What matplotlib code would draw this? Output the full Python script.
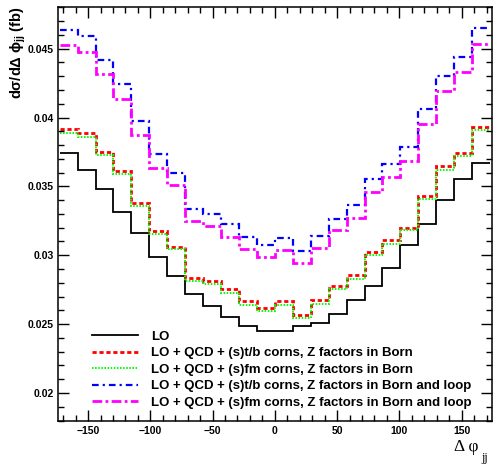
import numpy as np
import matplotlib
matplotlib.use("Agg")
import matplotlib.pyplot as plt
from matplotlib.ticker import MultipleLocator, FuncFormatter

plt.rcParams['font.family'] = ['Liberation Sans', 'DejaVu Sans']
plt.rcParams['mathtext.fontset'] = 'custom'
plt.rcParams['mathtext.bf'] = 'Liberation Sans:bold'
plt.rcParams['mathtext.rm'] = 'Liberation Sans'

# Bin edges (degrees)
bin_edges = np.linspace(-172.8, 172.8, 25)

lo = [0.03741, 0.03621, 0.03478, 0.03314, 0.03158, 0.02987, 0.02850, 0.02721,
      0.02633, 0.02553, 0.02488, 0.02450, 0.02448, 0.02488, 0.02508, 0.02575,
      0.02674, 0.02777, 0.02910, 0.03074, 0.03230, 0.03404, 0.03556, 0.03669]
tb_born = [0.03915, 0.03886, 0.03747, 0.03613, 0.03380, 0.03175, 0.03062, 0.02835,
           0.02814, 0.02754, 0.02665, 0.02618, 0.02667, 0.02568, 0.02674, 0.02774,
           0.02855, 0.03023, 0.03110, 0.03200, 0.03433, 0.03645, 0.03741, 0.03934]
fm_born = [0.03890, 0.03861, 0.03725, 0.03590, 0.03355, 0.03151, 0.03048, 0.02813,
           0.02790, 0.02725, 0.02638, 0.02595, 0.02640, 0.02546, 0.02643, 0.02754,
           0.02829, 0.02999, 0.03084, 0.03180, 0.03410, 0.03621, 0.03723, 0.03912]
tb_loop = [0.04637, 0.04591, 0.04420, 0.04247, 0.03977, 0.03733, 0.03598, 0.03337,
           0.03303, 0.03225, 0.03129, 0.03077, 0.03124, 0.03030, 0.03139, 0.03265,
           0.03363, 0.03551, 0.03663, 0.03785, 0.04059, 0.04305, 0.04439, 0.04652]
fm_loop = [0.04524, 0.04475, 0.04314, 0.04136, 0.03874, 0.03634, 0.03507, 0.03249,
           0.03214, 0.03134, 0.03043, 0.02990, 0.03040, 0.02944, 0.03055, 0.03180,
           0.03270, 0.03458, 0.03570, 0.03686, 0.03953, 0.04194, 0.04329, 0.04533]

labels = ["LO",
          "LO + QCD + (s)t/b corns, Z factors in Born",
          "LO + QCD + (s)fm corns, Z factors in Born",
          "LO + QCD + (s)t/b corns, Z factors in Born and loop",
          "LO + QCD + (s)fm corns, Z factors in Born and loop"]

fig = plt.figure(figsize=(4.93, 4.66), dpi=100)
ax = fig.add_axes([0.118, 0.0976, 0.879, 0.8866])

ax.stairs(lo, bin_edges, baseline=None, color='black', lw=1.3, ls='-', label=labels[0])
ax.stairs(tb_born, bin_edges, baseline=None, color='#ff0000', lw=2.0, ls=(0, (1.5, 1.0)), label=labels[1])
ax.stairs(fm_born, bin_edges, baseline=None, color='#00ff00', lw=1.4, ls=(0, (0.8, 0.8)), label=labels[2])
ax.stairs(tb_loop, bin_edges, baseline=None, color='#0000ff', lw=1.6, ls=(0, (3.0, 1.8, 1.0, 1.8)), label=labels[3])
ax.stairs(fm_loop, bin_edges, baseline=None, color='#ff00ff', lw=2.0, ls=(0, (3.5, 1.2, 1.0, 1.2)), label=labels[4])

ax.set_xlim(-174, 174)
ax.set_ylim(0.018, 0.048)

ax.xaxis.set_major_locator(MultipleLocator(50))
ax.xaxis.set_minor_locator(MultipleLocator(10))
ax.yaxis.set_major_locator(MultipleLocator(0.005))
ax.yaxis.set_minor_locator(MultipleLocator(0.001))
ax.yaxis.set_major_formatter(FuncFormatter(lambda v, p: ('%g' % round(v, 4))))
ax.tick_params(which='both', direction='in', top=True, right=True, width=1.0)
ax.tick_params(which='major', length=8)
ax.tick_params(which='minor', length=4)
ax.tick_params(axis='both', labelsize=7.5)
for lab in ax.get_xticklabels() + ax.get_yticklabels():
    lab.set_fontweight('bold')
ax.tick_params(axis='x', pad=4)
ax.tick_params(axis='y', pad=3)
for s in ax.spines.values():
    s.set_linewidth(1.1)

leg = ax.legend(loc='center left', bbox_to_anchor=(0.078, 0.123), frameon=False,
                prop={'weight': 'bold', 'size': 9.5}, handlelength=3.5,
                handletextpad=0.95, labelspacing=0.33, borderpad=0, borderaxespad=0)

fig.text(0.036, 0.986, r'd$\mathbf{\sigma}$/d$\mathbf{\Delta}$ $\mathbf{\phi}_{\mathbf{jj}}$ (fb)',
         rotation=90, ha='center', va='top', fontsize=10.5, fontweight='bold')

fig.text(454 / 493, 15 / 466, 'Δ φ', ha='left', va='baseline', fontsize=12.5,
         family='Liberation Serif')
fig.text(481 / 493, 5 / 466, 'jj', ha='left', va='baseline', fontsize=8.5,
         family='Liberation Serif')

fig.savefig('out.png', dpi=100)
